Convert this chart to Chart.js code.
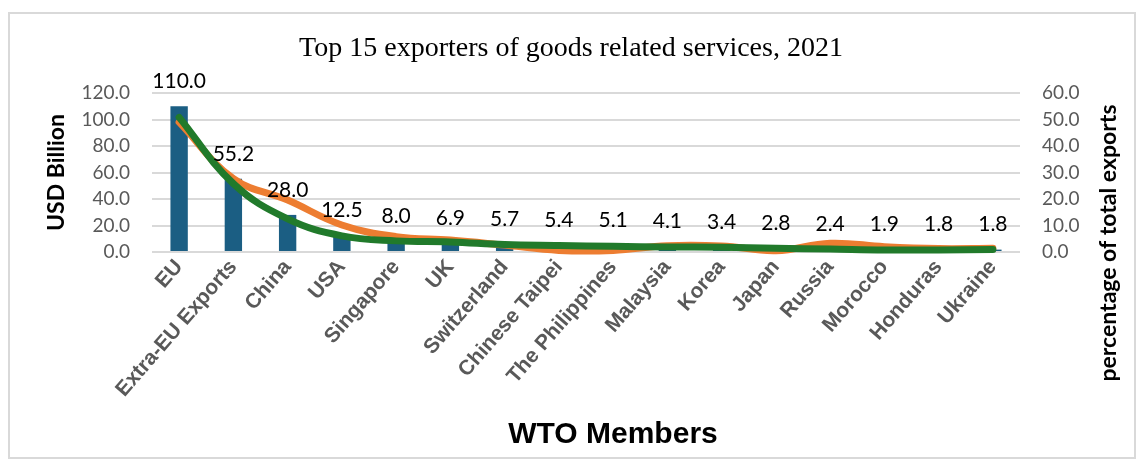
<!DOCTYPE html>
<html>
<head>
<meta charset="utf-8">
<script src="https://cdn.jsdelivr.net/npm/chart.js"></script>
<style>
  body { margin: 0; background: #fff; }
  #wrap { position: relative; width: 1142px; height: 459px; }
  #frame { position: absolute; left: 8px; top: 12px; width: 1124px; height: 443px; border: 2px solid #d9d9d9; }
  canvas { position: absolute; left: 0; top: 0; }
</style>
</head>
<body>
<div id="wrap">
  <div id="frame"></div>
  <canvas id="grafico" width="1142" height="459"></canvas>
</div>
<script>
// Dados
const membros = ['EU', 'Extra-EU Exports', 'China', 'USA', 'Singapore', 'UK', 'Switzerland',
  'Chinese Taipei', 'The Philippines', 'Malaysia', 'Korea', 'Japan', 'Russia', 'Morocco',
  'Honduras', 'Ukraine'];
const exportacoes = [110.0, 55.2, 28.0, 12.5, 8.0, 6.9, 5.7, 5.4, 5.1, 4.1, 3.4, 2.8, 2.4, 1.9, 1.8, 1.8];
const percentualA = [49.0, 27.7, 19.6, 10.2, 5.8, 4.5, 2.6, 0.6, 0.6, 2.4, 2.3, 0.5, 3.3, 2.0, 1.3, 1.4];
const percentualB = [50.8, 25.8, 12.5, 6.1, 4.2, 3.8, 2.8, 2.45, 2.15, 1.9, 1.77, 1.4, 1.1, 0.75, 0.75, 0.9];
const ticksUSD = [0, 20, 40, 60, 80, 100, 120];
const ticksPct = [0, 10, 20, 30, 40, 50, 60];

// Rótulos de valor acima das barras
const rotulosBarras = {
  id: 'rotulosBarras',
  afterDatasetsDraw(chart) {
    const ctx = chart.ctx;
    const meta = chart.getDatasetMeta(0);
    ctx.save();
    ctx.font = '21px Lato';
    ctx.fillStyle = '#000';
    ctx.textAlign = 'center';
    ctx.textBaseline = 'middle';
    meta.data.forEach((bar, i) => {
      ctx.fillText(exportacoes[i].toFixed(1), bar.x, bar.y - 25);
    });
    ctx.restore();
  }
};

// Títulos dos eixos
const titulosEixos = {
  id: 'titulosEixos',
  afterDraw(chart) {
    const ctx = chart.ctx;
    const area = chart.chartArea;
    ctx.save();
    ctx.fillStyle = '#000';
    ctx.textAlign = 'center';
    ctx.textBaseline = 'middle';

    ctx.font = 'bold 23px Lato';
    ctx.save();
    ctx.translate(57, (area.top + area.bottom) / 2);
    ctx.rotate(-Math.PI / 2);
    ctx.fillText('USD Billion', 0, 0);
    ctx.restore();

    ctx.save();
    ctx.translate(1109, 243);
    ctx.rotate(-Math.PI / 2);
    ctx.fillText('percentage of total exports', 0, 0);
    ctx.restore();

    ctx.font = 'bold 30px "Liberation Sans"';
    ctx.textBaseline = 'alphabetic';
    ctx.fillText('WTO Members', 613, 443);
    ctx.restore();
  }
};

const ctx = document.getElementById('grafico').getContext('2d');
new Chart(ctx, {
  data: {
    labels: membros,
    datasets: [
      {
        type: 'bar',
        label: 'USD Billion',
        data: exportacoes,
        backgroundColor: '#1B5E83',
        barPercentage: 0.32,
        categoryPercentage: 1,
        yAxisID: 'y',
        order: 3
      },
      {
        type: 'line',
        label: 'Percentage A',
        data: percentualA,
        borderColor: '#ED7D31',
        borderWidth: 7,
        pointRadius: 0,
        tension: 0.4,
        yAxisID: 'y1',
        clip: 10,
        order: 2
      },
      {
        type: 'line',
        label: 'Percentage B',
        data: percentualB,
        borderColor: '#217A2B',
        borderWidth: 7,
        pointRadius: 0,
        tension: 0.4,
        yAxisID: 'y1',
        clip: 10,
        order: 1
      }
    ]
  },
  options: {
    responsive: false,
    animation: false,
    layout: { padding: 0 },
    elements: { line: { capBezierPoints: false, borderCapStyle: 'round', borderJoinStyle: 'round' } },
    plugins: {
      legend: { display: false },
      tooltip: { enabled: false },
      title: {
        display: true,
        text: 'Top 15 exporters of goods related services, 2021',
        color: '#000',
        font: { family: 'Liberation Serif', size: 28, weight: 'normal' },
        padding: { top: 32, bottom: 27.4 }
      }
    },
    scales: {
      x: {
        grid: { display: false, drawTicks: false },
        border: { display: false },
        ticks: {
          color: '#595959',
          font: { family: 'Liberation Sans', weight: 'bold', size: 21 },
          minRotation: 49,
          maxRotation: 49,
          autoSkip: false,
          padding: 3
        },
        afterFit(s) { s.height = 207; }
      },
      y: {
        position: 'left',
        min: ticksUSD[0],
        max: ticksUSD[ticksUSD.length - 1],
        afterBuildTicks(s) { s.ticks = ticksUSD.map(v => ({ value: v })); },
        ticks: {
          color: '#595959',
          font: { family: 'Lato', size: 19 },
          padding: 22,
          callback: v => v.toFixed(1)
        },
        grid: { color: '#d9d9d9', lineWidth: 2, drawTicks: false },
        border: { display: false },
        afterFit(s) { s.width = 152; }
      },
      y1: {
        position: 'right',
        min: ticksPct[0],
        max: ticksPct[ticksPct.length - 1],
        afterBuildTicks(s) { s.ticks = ticksPct.map(v => ({ value: v })); },
        ticks: {
          color: '#595959',
          font: { family: 'Lato', size: 19 },
          padding: 22,
          callback: v => v.toFixed(1)
        },
        grid: { display: false, drawTicks: false },
        border: { display: false },
        afterFit(s) { s.width = 122; }
      }
    }
  },
  plugins: [rotulosBarras, titulosEixos]
});
</script>
</body>
</html>
